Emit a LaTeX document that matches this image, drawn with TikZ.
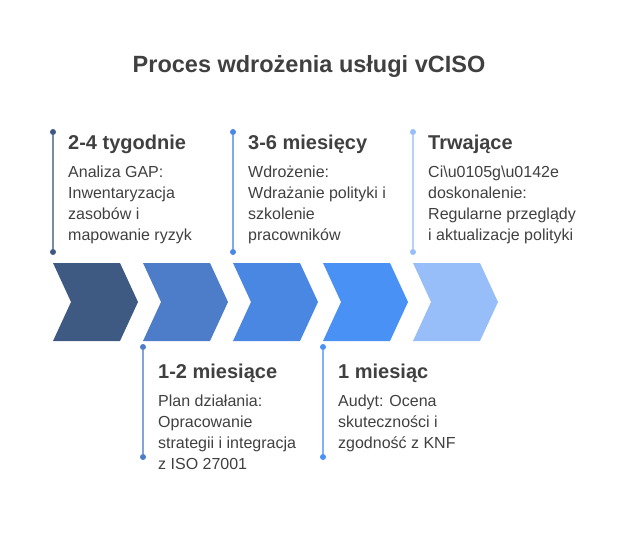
\documentclass[tikz,border=0pt]{standalone}
\usepackage{fontspec}
\setmainfont{Liberation Sans}
\usetikzlibrary{positioning}

\definecolor{cOne}{HTML}{3F5A82}
\definecolor{cTwo}{HTML}{4D7DC8}
\definecolor{cThree}{HTML}{4A87E2}
\definecolor{cFour}{HTML}{4A91F6}
\definecolor{cFive}{HTML}{97BEF8}
\definecolor{txt}{HTML}{404040}

\begin{document}
\begin{tikzpicture}[
        x=1pt, y=-1pt,
        every node/.style={text=txt, inner sep=0pt},
        title/.style={font=\bfseries\fontsize{23.5}{28}\selectfont},
        head/.style={font=\bfseries\fontsize{20}{24}\selectfont, anchor=north west},
        body/.style={font=\fontsize{16}{21}\selectfont, align=left, anchor=north west},
        dot/.style={circle, inner sep=0pt, minimum size=6pt}
    ]
    \useasboundingbox (0,0) rectangle (618,540);

    % Title
    \node[title] (title) at (309,66) {Proces wdrożenia usługi vCISO};

    % Chevrons
    \foreach \i/\col in {0/cOne,1/cTwo,2/cThree,3/cFour,4/cFive} {
        \fill[\col] (53+90*\i,263) -- ++(67,0) -- ++(18,39) -- ++(-18,39)
            -- ++(-67,0) -- ++(18,-39) -- cycle;
    }

    % Timeline markers
    \foreach \x/\ya/\yb/\col in {53/132/252/cOne, 233/132/252/cThree, 413/132/252/cFive,
                                 143/347/457/cTwo, 323/347/457/cFour} {
        \node[dot, fill=\col] (a\x) at (\x,\ya) {};
        \node[dot, fill=\col] (b\x) at (\x,\yb) {};
        \draw[\col!70, line width=1.2pt] (a\x) -- (b\x);
    }

    % Labels
    \node[head] (h1) at (68,135) {2-4 tygodnie};
    \node[body, below=12pt of h1.south west, anchor=north west] (t1) {Analiza GAP:\\Inwentaryzacja\\zasobów i\\mapowanie ryzyk};
    \node[head] (h3) at (248,135) {3-6 miesięcy};
    \node[body, below=12pt of h3.south west, anchor=north west] (t3) {Wdrożenie:\\Wdrażanie polityki i\\szkolenie\\pracowników};
    \node[head] (h5) at (428,135) {Trwające};
    \node[body, below=12pt of h5.south west, anchor=north west] (t5) {Ci\textbackslash u0105g\textbackslash u0142e\\doskonalenie:\\Regularne przeglądy\\i aktualizacje polityki};
    \node[head] (h2) at (158,364) {1-2 miesiące};
    \node[body, below=12pt of h2.south west, anchor=north west] (t2) {Plan działania:\\Opracowanie\\strategii i integracja\\z ISO 27001};
    \node[head] (h4) at (338,364) {1 miesiąc};
    \node[body, below=12pt of h4.south west, anchor=north west] (t4) {Audyt: Ocena\\skuteczności i\\zgodność z KNF};
\end{tikzpicture}
\end{document}
